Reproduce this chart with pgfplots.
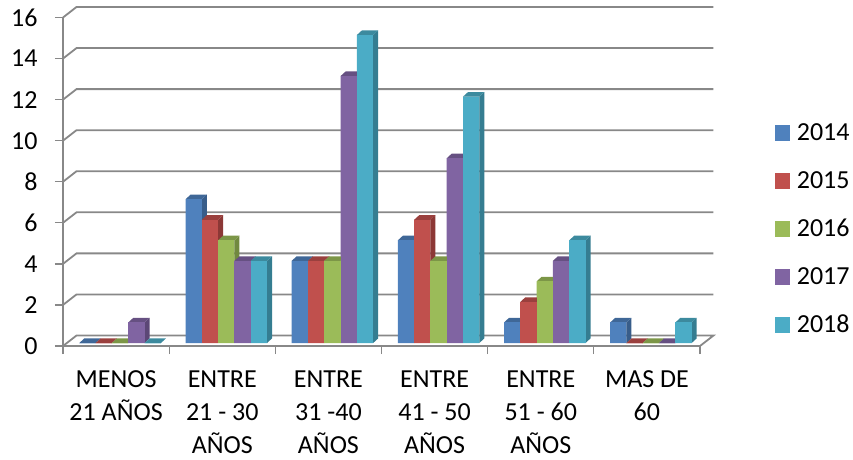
\documentclass[border=0pt]{standalone}
\usepackage{pgfplots}
\usepackage{pgfplotstable}
\usepackage{fontspec}
\setmainfont{Carlito}
\pgfplotsset{compat=1.18}
\definecolor{gridc}{HTML}{888888}
\definecolor{c2014}{HTML}{4F81BD}\definecolor{s2014}{HTML}{385D8A}\definecolor{t2014}{HTML}{3F6797}
\definecolor{c2015}{HTML}{C0504D}\definecolor{s2015}{HTML}{8C3836}\definecolor{t2015}{HTML}{9A403E}
\definecolor{c2016}{HTML}{9BBB59}\definecolor{s2016}{HTML}{71893F}\definecolor{t2016}{HTML}{7C9647}
\definecolor{c2017}{HTML}{8064A2}\definecolor{s2017}{HTML}{5C4776}\definecolor{t2017}{HTML}{665082}
\definecolor{c2018}{HTML}{4BACC6}\definecolor{s2018}{HTML}{357D91}\definecolor{t2018}{HTML}{3C8A9E}
\newcommand\declareprism[1]{%
  \pgfdeclareplotmark{prism#1}{%
    \pgfmathsetlengthmacro\prismh{\barv*20.53pt}%
    \pgfsetfillcolor{s#1}%
    \pgfpathmoveto{\pgfqpoint{8.15pt}{0pt}}%
    \pgfpathlineto{\pgfqpoint{13.15pt}{4.6pt}}%
    \pgfpathlineto{\pgfpoint{13.15pt}{4.6pt-\prismh}}%
    \pgfpathlineto{\pgfpoint{8.15pt}{-\prismh}}%
    \pgfpathclose\pgfusepathqfill
    \pgfsetfillcolor{t#1}%
    \pgfpathmoveto{\pgfqpoint{-8.15pt}{0pt}}%
    \pgfpathlineto{\pgfqpoint{8.15pt}{0pt}}%
    \pgfpathlineto{\pgfqpoint{13.15pt}{4.6pt}}%
    \pgfpathlineto{\pgfqpoint{-3.15pt}{4.6pt}}%
    \pgfpathclose\pgfusepathqfill
    \pgfsetfillcolor{c#1}%
    \pgfpathrectanglecorners{\pgfqpoint{-8.15pt}{0pt}}{\pgfpoint{8.15pt}{-\prismh}}%
    \pgfusepathqfill
  }}
\declareprism{2014}\declareprism{2015}\declareprism{2016}\declareprism{2017}\declareprism{2018}
\pgfplotstableread{
x y2014 y2015 y2016 y2017 y2018
0.5 0 0 0 1 0
1.5 7 6 5 4 4
2.5 4 4 4 13 15
3.5 5 6 4 9 12
4.5 1 2 3 4 5
5.5 1 0 0 0 1
}\ages
\newcommand\series[2]{%
  \addplot[forget plot,ybar,bar width=16.3pt,bar shift=0pt,draw=none,fill=c#1,xshift=#2pt,yshift=3pt] table[x=x,y=y#1]{\ages};
  \addplot[forget plot,scatter,only marks,mark=prism#1,point meta=y,
    scatter/use mapped color={draw=none,fill=none},
    visualization depends on={rawy\as\barv},xshift=#2pt,yshift=3pt] table[x=x,y=y#1]{\ages};
  \addlegendimage{fill=c#1,draw=none}
  \addlegendentry{#1}
}
\begin{document}
\begin{tikzpicture}[x=1pt,y=1pt]
\useasboundingbox (0,0) rectangle (853,459);
\begin{axis}[
  at={(63pt,113pt)},anchor=south west,
  scale only axis,width=637pt,height=328.5pt,
  xmin=0,xmax=6,ymin=0,ymax=16,clip=false,
  axis lines=left,
  axis line style={gridc,line width=1.8pt,-},
  every tick/.style={gridc,line width=1.3pt},
  tick align=outside,tickpos=left,
  ytick={0,2,...,16},
  major tick length=8pt,minor tick length=8pt,
  xtick={0.5,1.5,...,5.5},
  minor xtick={0,1,...,6},
  major x tick style={draw=none},
  xticklabels={{MENOS\\21 AÑOS},{ENTRE\\21 - 30\\AÑOS},{ENTRE\\31 -40\\AÑOS},{ENTRE\\41 - 50\\AÑOS},{ENTRE\\51 - 60\\AÑOS},{MAS DE\\60}},
  xticklabel style={align=center,font=\fontsize{26}{33}\selectfont,yshift=-13pt,anchor=north},
  yticklabel style={font=\fontsize{26}{30}\selectfont,xshift=-14pt},
  /pgf/number format/assume math mode=true,
  legend cell align=left,
  legend style={draw=none,fill=none,at={(axis cs:6.706,0.64)},anchor=south west,
    font=\fontsize{26}{30}\selectfont,row sep=31pt,column sep=6.7pt,inner sep=0pt,
    nodes={inner sep=0pt,text height=17pt,text depth=0pt}},
  legend image code/.code={\fill[#1,draw=none] (0pt,-8.5pt) rectangle (15pt,6.8pt);},
]
\addplot[forget plot,gridc,line width=1.8pt] coordinates {(0,0)(0.127,0.511)(6.127,0.511)(6,0)};
\addplot[forget plot,gridc,line width=1.8pt] coordinates {(0,2)(0.127,2.511)(6.127,2.511)};
\addplot[forget plot,gridc,line width=1.8pt] coordinates {(0,4)(0.127,4.511)(6.127,4.511)};
\addplot[forget plot,gridc,line width=1.8pt] coordinates {(0,6)(0.127,6.511)(6.127,6.511)};
\addplot[forget plot,gridc,line width=1.8pt] coordinates {(0,8)(0.127,8.511)(6.127,8.511)};
\addplot[forget plot,gridc,line width=1.8pt] coordinates {(0,10)(0.127,10.511)(6.127,10.511)};
\addplot[forget plot,gridc,line width=1.8pt] coordinates {(0,12)(0.127,12.511)(6.127,12.511)};
\addplot[forget plot,gridc,line width=1.8pt] coordinates {(0,14)(0.127,14.511)(6.127,14.511)};
\addplot[forget plot,gridc,line width=1.8pt] coordinates {(0,16)(0.127,16.511)(6.127,16.511)};
\series{2014}{-28.6}
\series{2015}{-12.3}
\series{2016}{4}
\series{2017}{20.3}
\series{2018}{36.6}
\end{axis}
\end{tikzpicture}
\end{document}
